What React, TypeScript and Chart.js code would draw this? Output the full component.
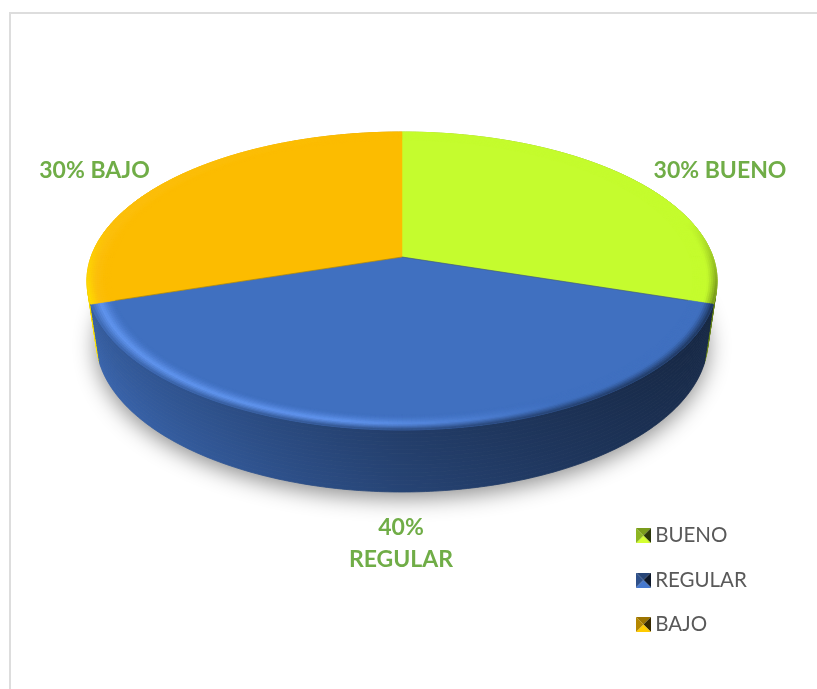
import React, { useEffect, useRef } from "react";
import { Chart, registerables } from "chart.js";

Chart.register(...registerables);

const categories = ["BUENO", "REGULAR", "BAJO"];
const values = [30, 40, 30];
const sliceColors = ["#C5FC2E", "#4070C0", "#FCBC00"];

const FONT = "Lato, 'Open Sans', sans-serif";
const LABEL_COLOR = "#70AD47";
const LEGEND_COLOR = "#595959";

// perspective view of the disc (unit circle -> screen)
const VIEW = {
  cx: 402, p: 0.161,
  top: { a: 311, b: 145.1, y0: 257 },
  bottom: { a: 302, b: 148, y0: 315.6 },
};

type RGB = [number, number, number];
const hex = (h: string): RGB => [parseInt(h.slice(1, 3), 16), parseInt(h.slice(3, 5), 16), parseInt(h.slice(5, 7), 16)];
const mix = (c: RGB, d: RGB, t: number): RGB => [c[0] + (d[0] - c[0]) * t, c[1] + (d[1] - c[1]) * t, c[2] + (d[2] - c[2]) * t];
const mul = (c: RGB, k: number): RGB => [Math.min(255, c[0] * k), Math.min(255, c[1] * k), Math.min(255, c[2] * k)];
const css = (c: RGB) => `rgb(${c[0] | 0},${c[1] | 0},${c[2] | 0})`;
const clamp = (x: number, a = 0, b = 1) => Math.max(a, Math.min(b, x));

function project(theta: number, r: number, layer: { a: number; b: number; y0: number }) {
  const u = r * Math.cos(theta);
  const v = r * Math.sin(theta);
  const w = 1 - VIEW.p * v;
  return [VIEW.cx + (layer.a * u) / w, layer.y0 + (layer.b * v) / w];
}
function lerpPt(p: number[], q: number[], t: number) {
  return [p[0] + (q[0] - p[0]) * t, p[1] + (q[1] - p[1]) * t];
}
function quad(ctx: CanvasRenderingContext2D, a: number[], b: number[], c: number[], d: number[], col: string) {
  ctx.beginPath();
  ctx.moveTo(a[0], a[1]);
  ctx.lineTo(b[0], b[1]);
  ctx.lineTo(c[0], c[1]);
  ctx.lineTo(d[0], d[1]);
  ctx.closePath();
  ctx.fillStyle = col;
  ctx.strokeStyle = col;
  ctx.lineWidth = 0.6;
  ctx.fill();
  ctx.stroke();
}

function wallColor(base: RGB, xn: number, isBlue: boolean): RGB {
  const s = xn < 0 ? 0.6 + (-xn) * 0.3 : 0.6 - xn * 0.22;
  return mul(base, isBlue ? s : s * 1.35);
}

const STEP = Math.PI / 240;

function segments(start: number, end: number) {
  const n = Math.max(2, Math.ceil((end - start) / STEP));
  const out: number[][] = [];
  for (let i = 0; i < n; i++) out.push([start + ((end - start) * i) / n, start + ((end - start) * (i + 1)) / n]);
  return out;
}

const disc3d = {
  id: "disc3d",
  beforeDatasetDraw(chart: any) {
    const ctx: CanvasRenderingContext2D = chart.ctx;
    const meta = chart.getDatasetMeta(0);
    const arcs = meta.data.map((el: any, i: number) => ({
      start: el.startAngle,
      end: el.endAngle,
      base: hex(sliceColors[i]),
      blue: i === 1,
    }));
    ctx.save();

    // soft drop shadow under the disc
    ctx.save();
    ctx.shadowColor = "rgba(0,0,0,0.45)";
    ctx.shadowBlur = 22;
    ctx.shadowOffsetY = 6;
    ctx.beginPath();
    for (let k = 0; k <= 120; k++) {
      const q = project((k / 120) * Math.PI * 2, 1, VIEW.bottom);
      if (k === 0) ctx.moveTo(q[0], q[1]);
      else ctx.lineTo(q[0], q[1]);
    }
    ctx.closePath();
    ctx.fillStyle = "#888";
    ctx.fill();
    ctx.restore();

    // side walls: horizontal gradient strips, painted back slices first
    const order = [...arcs].sort((p, q) => Number(p.blue) - Number(q.blue));
    const BANDS = 16;
    for (const arc of order) {
      const segs = segments(arc.start, arc.end);
      for (let k = 0; k < BANDS; k++) {
        const f = k / BANDS;
        const g = (k + 1) / BANDS;
        const tone = f > 0.9 ? 1.06 - (f - 0.9) * 1.2 : 0.92 + f * 0.1;
        const grad = ctx.createLinearGradient(VIEW.cx - 315, 0, VIEW.cx + 315, 0);
        for (let s = 0; s <= 20; s++) {
          const xn = -1 + s / 10;
          grad.addColorStop(s / 20, css(mul(wallColor(arc.base, xn, arc.blue), tone)));
        }
        ctx.beginPath();
        const pts: number[][] = [];
        const ptsB: number[][] = [];
        for (const [t0] of segs) {
          pts.push(lerpPt(project(t0, 1, VIEW.top), project(t0, 1, VIEW.bottom), f));
          ptsB.push(lerpPt(project(t0, 1, VIEW.top), project(t0, 1, VIEW.bottom), g));
        }
        pts.push(lerpPt(project(arc.end, 1, VIEW.top), project(arc.end, 1, VIEW.bottom), f));
        ptsB.push(lerpPt(project(arc.end, 1, VIEW.top), project(arc.end, 1, VIEW.bottom), g));
        pts.forEach((q, i) => (i ? ctx.lineTo(q[0], q[1]) : ctx.moveTo(q[0], q[1])));
        ptsB.reverse().forEach((q) => ctx.lineTo(q[0], q[1]));
        ctx.closePath();
        ctx.fillStyle = grad;
        ctx.strokeStyle = grad;
        ctx.lineWidth = 0.8;
        ctx.fill();
        ctx.stroke();
      }
    }

    // top faces
    for (const arc of arcs) {
      ctx.beginPath();
      ctx.moveTo(VIEW.cx, VIEW.top.y0);
      for (const [t0] of segments(arc.start, arc.end)) {
        const q = project(t0, 1, VIEW.top);
        ctx.lineTo(q[0], q[1]);
      }
      const last = project(arc.end, 1, VIEW.top);
      ctx.lineTo(last[0], last[1]);
      ctx.closePath();
      ctx.fillStyle = css(arc.base);
      ctx.strokeStyle = css(arc.base);
      ctx.lineWidth = 0.5;
      ctx.fill();
      ctx.stroke();
    }

    // dividing lines
    for (const arc of arcs) {
      const q = project(arc.start, 1, VIEW.top);
      ctx.beginPath();
      ctx.moveTo(VIEW.cx, VIEW.top.y0);
      ctx.lineTo(q[0], q[1]);
      ctx.strokeStyle = "rgba(60,60,20,0.28)";
      ctx.lineWidth = 1;
      if (Math.sin(arc.start) > -0.9) ctx.stroke();
    }

    // bevelled rim
    const RINGS = 12;
    const R0 = 0.925;
    const HILITE: RGB = [98, 150, 240];
    for (const arc of arcs) {
      for (const [t0, t1] of segments(arc.start, arc.end)) {
        const mid = (t0 + t1) / 2;
        const v = Math.sin(mid);
        const xn = Math.cos(mid);
        const front = clamp((v + 0.25) / 0.5);
        const wall = wallColor(arc.base, xn, arc.blue);
        const strength = arc.blue ? clamp((0.45 - xn) / 0.6) : 0.12 * clamp(-xn);
        const light = arc.blue ? HILITE : mix(arc.base, [255, 255, 255], 0.4);
        for (let k = 0; k < RINGS; k++) {
          const f = k / RINGS;
          const r1 = R0 + ((1 - R0) * k) / RINGS;
          const r2 = R0 + ((1 - R0) * (k + 1)) / RINGS;
          let col: RGB;
          if (f < 0.55) {
            col = mix(arc.base, light, strength * (f / 0.55) ** 1.5);
          } else {
            const from = mix(arc.base, light, strength);
            col = mix(from, wall, front * ((f - 0.55) / 0.45) ** 1.2);
          }
          quad(ctx, project(t0, r1, VIEW.top), project(t1, r1, VIEW.top), project(t1, r2, VIEW.top), project(t0, r2, VIEW.top), css(col));
        }
      }
    }
    ctx.restore();
    return false;
  },
  afterDatasetsDraw(chart: any) {
    const ctx: CanvasRenderingContext2D = chart.ctx;
    const total = values.reduce((s, x) => s + x, 0);
    const pct = values.map((x) => `${Math.round((x / total) * 100)}%`);
    ctx.save();
    ctx.fillStyle = LABEL_COLOR;
    ctx.font = `bold 23px ${FONT}`;
    ctx.textBaseline = "middle";
    ctx.textAlign = "center";
    ctx.fillText(`${pct[0]} ${categories[0]}`, 720, 171);
    ctx.fillText(`${pct[2]} ${categories[2]}`, 94.5, 171);
    ctx.fillText(pct[1], 401, 527.5);
    ctx.fillText(categories[1], 401, 559.5);
    ctx.restore();
  },
  beforeDraw(chart: any) {
    const lg = chart.legend;
    lg.left = 618;
    lg.right = lg.left + lg.width;
    lg.top = 501.5;
    lg.bottom = lg.top + lg.height;
    lg.adjustHitBoxes();
  },
};

function swatch(color: string) {
  const s = 15;
  const c = document.createElement("canvas");
  c.width = s;
  c.height = s;
  const g = c.getContext("2d")!;
  const base = hex(color);
  const m = s / 2;
  const tri = (x1: number, y1: number, x2: number, y2: number, k: number) => {
    g.beginPath();
    g.moveTo(x1, y1);
    g.lineTo(x2, y2);
    g.lineTo(m, m);
    g.closePath();
    g.fillStyle = css(mul(base, k));
    g.fill();
  };
  tri(0, 0, s, 0, 0.62);
  tri(s, 0, s, s, 0.22);
  tri(s, s, 0, s, 1.08);
  tri(0, s, 0, 0, 0.72);
  return c;
}

export default function App() {
  const ref = useRef<HTMLCanvasElement>(null);
  useEffect(() => {
    const chart = new Chart(ref.current!, {
      type: "pie",
      data: {
        labels: categories,
        datasets: [{ data: values, backgroundColor: sliceColors, borderWidth: 0 }],
      },
      options: {
        animation: false,
        responsive: false,
        plugins: {
          tooltip: { enabled: false },
          legend: {
            position: "chartArea",
            align: "start",
            labels: {
              usePointStyle: true,
              boxWidth: 3,
              boxHeight: 15,
              padding: 23.9,
              color: LEGEND_COLOR,
              font: { family: FONT, size: 20.5 },
              generateLabels: () =>
                categories.map((text, i) => ({
                  text,
                  fillStyle: sliceColors[i],
                  fontColor: LEGEND_COLOR,
                  pointStyle: swatch(sliceColors[i]),
                  lineWidth: 0,
                  hidden: false,
                  index: i,
                })),
            },
          },
        },
      } as any,
      plugins: [disc3d as any],
    });
    return () => chart.destroy();
  }, []);
  return (
    <div style={{ position: "fixed", left: 0, top: 0, width: 817, height: 689, overflow: "hidden", background: "#fff" }}>
      <div style={{ position: "absolute", left: 9, top: 12, right: -5, bottom: -5, borderLeft: "2px solid #DDDDDD", borderTop: "2px solid #DDDDDD" }} />
      <canvas ref={ref} width={817} height={689} style={{ position: "absolute", left: 0, top: 0, display: "block" }} />
    </div>
  );
}
